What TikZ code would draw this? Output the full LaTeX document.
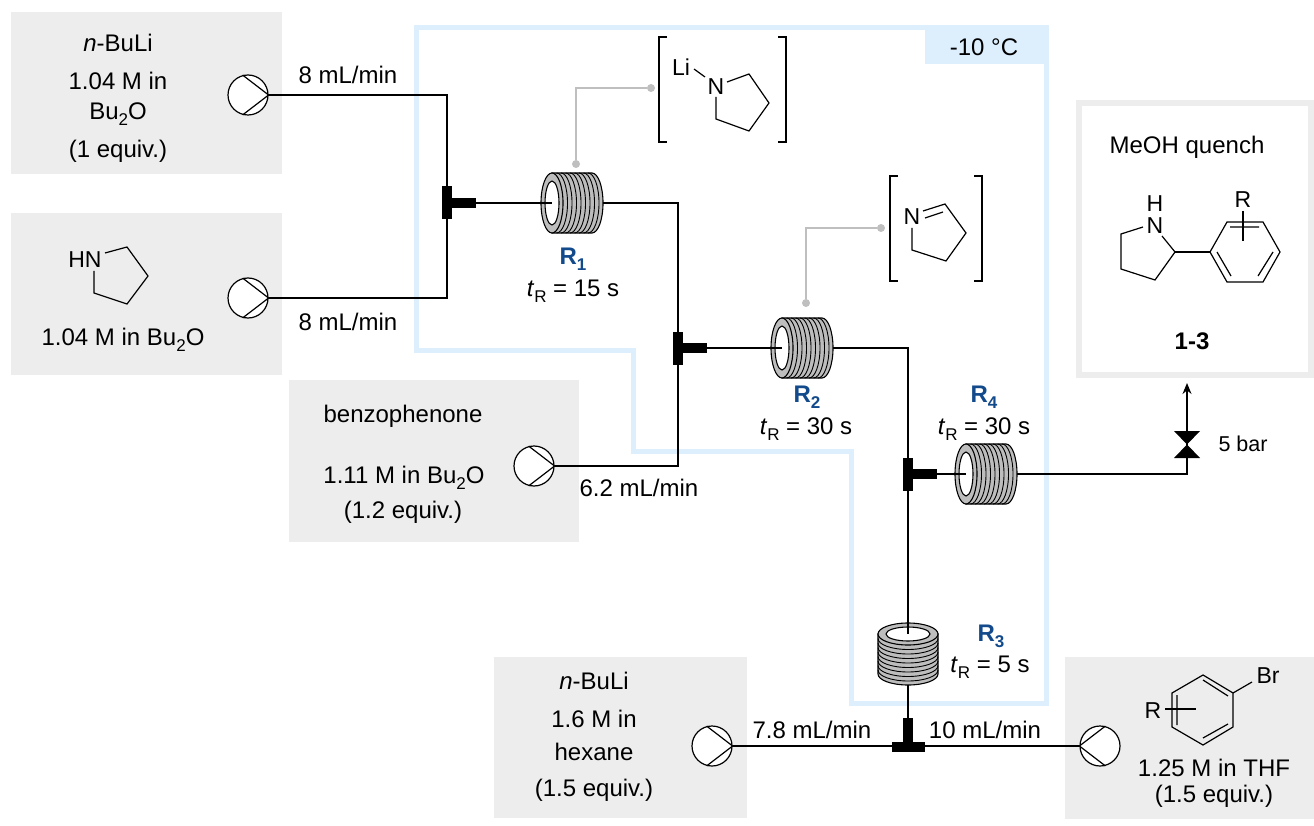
\documentclass[tikz,border=0pt]{standalone}
\usepackage{fontspec}
\setmainfont{Liberation Sans}
\usetikzlibrary{arrows.meta}
\definecolor{boxgrey}{HTML}{EDEDED}
\definecolor{coolblue}{HTML}{DDEEFD}
\definecolor{coilgrey}{HTML}{BDBDBD}
\definecolor{leadgrey}{HTML}{BFBFBF}
\definecolor{reactorblue}{HTML}{124A8C}
\newcommand{\subtxt}[1]{\raisebox{-.26em}{\fontsize{17}{17}\selectfont #1}}
\newcommand{\tres}{\textit{t}\subtxt{R}}
\newcommand{\rname}[1]{\textbf{R\subtxt{\bfseries #1}}}
\tikzset{
  lbl/.style = {inner sep = 0pt},
  reactorlbl/.style = {inner sep = 0pt, text = reactorblue},
  chem/.style = {inner sep = 0pt, font = \fontsize{23}{27}\selectfont},
  pipe/.style = {draw = black, line width = 1.3pt},
  bond/.style = {draw = black, line width = 1.2pt},
  pump/.style = {circle, draw = black, fill = white, line width = 1.2pt, minimum size = 40pt, inner sep = 0pt},
  tee/.style = {fill = black, inner sep = 0pt, minimum width = #1},
  lead/.style = {draw = leadgrey, line width = 1.3pt},
  leaddot/.style = {circle, fill = leadgrey, inner sep = 0pt, minimum size = 8pt},
  coil/.style = {fill = coilgrey, draw = black, line width = 1.1pt}
}
\newcommand{\coilH}[3]{
\coordinate (#1) at (#2, #3);
\coordinate (#1end) at (#2 + 51, #3);
\path[coil] (#2, #3 - 30) -- (#2 + 40, #3 - 30) arc[start angle = 90, end angle = -90, x radius = 11pt, y radius = 30pt] -- (#2, #3 + 30) -- cycle;
\foreach \i in {1, ..., 8} \draw[line width = .9pt] (#2 + 4.5 * \i, #3 - 30) arc[start angle = 90, end angle = -90, x radius = 11pt, y radius = 30pt];
\path[coil] (#2, #3) ellipse[x radius = 11pt, y radius = 30pt];
\path[draw = black, fill = white, line width = 1.1pt] (#2, #3) ellipse[x radius = 7pt, y radius = 22pt];
}
\newcommand{\coilV}[3]{
\coordinate (#1) at (#2, #3);
\coordinate (#1end) at (#2, #3 + 51);
\path[coil] (#2 - 30, #3) -- (#2 - 30, #3 + 40) arc[start angle = 180, end angle = 360, x radius = 30pt, y radius = 11pt] -- (#2 + 30, #3) -- cycle;
\foreach \i in {1, ..., 8} \draw[line width = .9pt] (#2 - 30, #3 + 4.5 * \i) arc[start angle = 180, end angle = 360, x radius = 30pt, y radius = 11pt];
\path[coil] (#2, #3) ellipse[x radius = 30pt, y radius = 11pt];
\path[draw = black, fill = white, line width = 1.1pt] (#2, #3) ellipse[x radius = 22pt, y radius = 7pt];
}
\newcommand{\brackets}[3]{
\draw[line width = 1.3pt] (#1 + 8, 37 + #3) -- (#1, 37 + #3) -- (#1, 142 + #3) -- (#1 + 8, 142 + #3);
\draw[line width = 1.3pt] (#2 - 8, 37 + #3) -- (#2, 37 + #3) -- (#2, 142 + #3) -- (#2 - 8, 142 + #3);
}
\begin{document}
\begin{tikzpicture}[x = 1pt, y = -1pt, font = \fontsize{24}{28}\selectfont]
\useasboundingbox (0, 0) rectangle (1314, 826);
\fill[boxgrey] (11, 12) rectangle (282, 174);
\fill[boxgrey] (11, 213) rectangle (282, 375);
\fill[boxgrey] (289, 380) rectangle (579, 542);
\fill[boxgrey] (494, 657) rectangle (747, 818);
\fill[boxgrey] (1065, 657) rectangle (1314, 819);
\draw[boxgrey, line width = 6pt] (1079, 103) rectangle (1311, 375);
\draw[coolblue, line width = 5pt] (416, 28) -- (1046, 28) -- (1046, 703) -- (851, 703) -- (851, 451) -- (633, 451) -- (633, 350) -- (416, 350) -- cycle;
\fill[coolblue] (925, 28) rectangle (1046, 64);
\node[lbl] (temp) at (984, 47) {-10 °C};

\node[pump] (pumpA) at (248, 95) {};
\node[pump] (pumpB) at (248, 298) {};
\node[pump] (pumpC) at (534, 466) {};
\node[pump] (pumpD) at (712, 746) {};
\node[pump] (pumpE) at (1100, 746) {};
\foreach \p in {pumpA, pumpB, pumpC, pumpD} \draw[bond] (\p.east) -- (\p.105) (\p.east) -- (\p.-105);
\draw[bond] (pumpE.west) -- (pumpE.75) (pumpE.west) -- (pumpE.-75);

\coordinate (teeA) at (447, 203);
\coordinate (teeB) at (678, 348);
\coordinate (teeC) at (908, 474);
\coordinate (teeD) at (908, 747);
\coordinate (valve) at (1187, 444);
\coordinate (outlet) at (1187, 383);
\draw[pipe] (pumpA.east) -| (teeA);
\draw[pipe] (pumpB.east) -| (teeA);
\draw[pipe] (pumpC.east) -| (teeB);
\draw[pipe] (pumpD.east) -- (pumpE.west);

\coilH{Ra}{552}{203}
\coilH{Rb}{782}{348}
\coilH{Rd}{966}{474}
\coilV{Rc}{908}{634}

\draw[pipe] (teeA) -- (Ra);
\draw[pipe] (Raend) -| (teeB);
\draw[pipe] (teeB) -- (Rb);
\draw[pipe] (Rbend) -| (teeC);
\draw[pipe] (teeC) -- (Rd);
\draw[pipe] (Rdend) -| (valve);
\draw[pipe] (teeC) -- (Rc);
\draw[pipe] (Rcend) -- (teeD);
\draw[line width = 1.3pt, -{Stealth[length = 11pt, width = 9pt]}] (valve) -- (outlet);

\node[tee = 10pt, minimum height = 33pt] (barA) at (teeA) {};
\node[tee = 29pt, minimum height = 10pt, anchor = west] (stemA) at (teeA) {};
\node[tee = 10pt, minimum height = 33pt] (barB) at (teeB) {};
\node[tee = 29pt, minimum height = 10pt, anchor = west] (stemB) at (teeB) {};
\node[tee = 10pt, minimum height = 33pt] (barC) at (teeC) {};
\node[tee = 29pt, minimum height = 10pt, anchor = west] (stemC) at (teeC) {};
\node[tee = 33pt, minimum height = 10pt] (barD) at (teeD) {};
\node[tee = 10pt, minimum height = 29pt, anchor = south] (stemD) at (teeD) {};
\fill (1174, 431) -- (1200, 431) -- (1174, 458) -- (1200, 458) -- cycle;

\node[leaddot] (dotA) at (576, 164) {};
\node[leaddot] (dotB) at (651, 88) {};
\node[leaddot] (dotC) at (806, 303) {};
\node[leaddot] (dotD) at (881, 228) {};
\draw[lead] (dotA) |- (dotB);
\draw[lead] (dotC) |- (dotD);

\brackets{659}{786}{0}
\brackets{890}{982}{139}

\node[chem] (liA) at (681, 67) {Li};
\node[chem] (nA) at (716, 87) {N};
\draw[bond] (694, 69) -- (705, 77);
\draw[bond] (727, 82) -- (749, 74) -- (769, 103) -- (749, 131) -- (716, 119) -- (716, 97);

\node[chem] (nB) at (912, 217) {N};
\draw[bond] (923, 211) -- (945, 204) -- (966, 233) -- (946, 261) -- (912, 250) -- (912, 228);
\draw[bond] (925, 218) -- (943, 212);

\node[chem] (hnA) at (85, 260) {HN};
\draw[bond] (105, 253) -- (127, 247) -- (148, 276) -- (127, 304) -- (94, 293) -- (94, 271);

\node[chem] (hC) at (1155, 204) {H};
\node[chem] (nC) at (1155, 226) {N};
\node[chem] (rC) at (1243, 200) {R};
\draw[bond] (1162, 236) -- (1175, 252) -- (1155, 280) -- (1121, 269) -- (1121, 234) -- (1143, 227);
\draw[bond] (1175, 252) -- (1210, 252);
\draw[bond] (1210, 252) -- (1227, 222) -- (1263, 222) -- (1280, 252) -- (1263, 282) -- (1227, 282) -- cycle;
\draw[bond] (1230, 227) -- (1259, 227) (1258, 276) -- (1273, 252) (1217, 252) -- (1231, 276);
\draw[bond] (1243, 211) -- (1243, 241);

\node[chem] (brD) at (1268, 676) {Br};
\node[chem] (rD) at (1153, 711) {R};
\draw[bond] (1203, 675) -- (1233, 693) -- (1233, 727) -- (1203, 745) -- (1172, 727) -- (1172, 693) -- cycle;
\draw[bond] (1233, 693) -- (1252, 682);
\draw[bond] (1165, 709) -- (1196, 709);
\draw[bond] (1203, 680) -- (1228, 696) (1203, 738) -- (1228, 724) (1177, 695) -- (1177, 725);

\node[lbl] (srcAa) at (118, 43) {\textit{n}-BuLi};
\node[lbl] (srcAb) at (118, 81) {1.04 M in};
\node[lbl] (srcAc) at (118, 114) {Bu\subtxt{2}O};
\node[lbl] (srcAd) at (118, 151) {(1 equiv.)};
\node[lbl] (srcB) at (123, 340) {1.04 M in Bu\subtxt{2}O};
\node[lbl] (srcCa) at (403, 416) {benzophenone};
\node[lbl] (srcCb) at (404, 478) {1.11 M in Bu\subtxt{2}O};
\node[lbl] (srcCc) at (403, 512) {(1.2 equiv.)};
\node[lbl] (srcDa) at (594, 681) {\textit{n}-BuLi};
\node[lbl] (srcDb) at (594, 719) {1.6 M in};
\node[lbl] (srcDc) at (594, 752) {hexane};
\node[lbl] (srcDd) at (594, 790) {(1.5 equiv.)};
\node[lbl] (srcEa) at (1214, 768) {1.25 M in THF};
\node[lbl] (srcEb) at (1214, 796) {(1.5 equiv.)};

\node[lbl] (flowA) at (348, 75) {8 mL/min};
\node[lbl] (flowB) at (348, 322) {8 mL/min};
\node[lbl] (flowC) at (639, 488) {6.2 mL/min};
\node[lbl] (flowD) at (812, 730) {7.8 mL/min};
\node[lbl] (flowE) at (985, 730) {10 mL/min};

\node[reactorlbl] (nameA) at (573, 259) {\rname{1}};
\node[lbl] (timeA) at (573, 291) {\tres{} = 15 s};
\node[reactorlbl] (nameB) at (807, 397) {\rname{2}};
\node[lbl] (timeB) at (806, 429) {\tres{} = 30 s};
\node[reactorlbl] (nameD) at (984, 397) {\rname{4}};
\node[lbl] (timeD) at (984, 429) {\tres{} = 30 s};
\node[reactorlbl] (nameC) at (991, 636) {\rname{3}};
\node[lbl] (timeC) at (990, 667) {\tres{} = 5 s};

\node[lbl] (quench) at (1187, 147) {MeOH quench};
\node[lbl] (product) at (1192, 341) {\textbf{1-3}};
\node[lbl, font = \fontsize{21.5}{25}\selectfont] (press) at (1243, 444) {5 bar};
\end{tikzpicture}
\end{document}
